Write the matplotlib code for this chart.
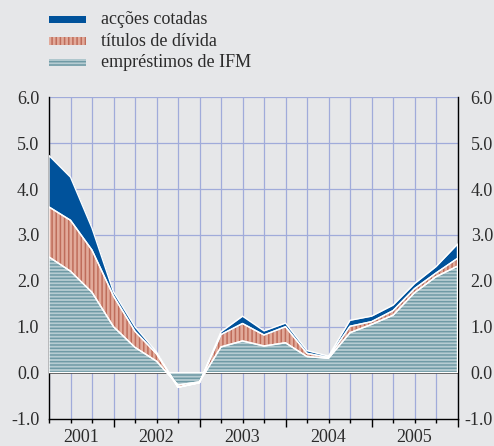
import numpy as np
import matplotlib.pyplot as plt
from matplotlib.patches import Rectangle
from matplotlib.transforms import blended_transform_factory

# quarterly observations, 2001 Q2 to 2006 Q1 (end of quarter)
quarters = [2001.25, 2001.5, 2001.75, 2002.0, 2002.25, 2002.5, 2002.75, 2003.0,
            2003.25, 2003.5, 2003.75, 2004.0, 2004.25, 2004.5, 2004.75, 2005.0,
            2005.25, 2005.5, 2005.75, 2006.0]

# contributions (percentage points)
loans = [2.52, 2.21, 1.75, 1.00, 0.55, 0.25, -0.27, -0.20, 0.56, 0.69,
         0.58, 0.65, 0.35, 0.31, 0.87, 1.05, 1.25, 1.74, 2.09, 2.32]
debt = [1.09, 1.11, 0.92, 0.67, 0.35, 0.16, -0.05, -0.02, 0.27, 0.38,
        0.24, 0.35, 0.07, 0.02, 0.14, 0.06, 0.10, 0.09, 0.08, 0.17]
equity = [1.12, 0.94, 0.48, 0.09, 0.10, 0.04, 0.0, 0.0, 0.06, 0.16,
          0.09, 0.08, 0.06, 0.03, 0.13, 0.12, 0.12, 0.11, 0.14, 0.31]

labels = ["acções cotadas", "títulos de dívida", "empréstimos de IFM"]
year_labels = ["2001", "2002", "2003", "2004", "2005"]
year_pos = [2001.625, 2002.5, 2003.5, 2004.5, 2005.5]
year_bounds = [2002.0, 2003.0, 2004.0, 2005.0, 2006.0]

bg = "#e6e7e9"
grid_col = "#a0abda"
blue = "#00529b"
red_light, red_dark = "#e2aa9a", "#bf6d5b"
teal_light, teal_dark = "#b6ccd2", "#6f9aa5"
text_col = "#2b2b2b"

plt.rcParams["font.family"] = ["Liberation Serif", "DejaVu Serif"]
plt.rcParams["hatch.linewidth"] = 1.1

fig = plt.figure(figsize=(4.94, 4.46), dpi=100, facecolor=bg)
ax = fig.add_axes([49 / 494, 1 - 418.5 / 446, 408.5 / 494, 321.2 / 446])
ax.set_facecolor(bg)

x = np.array(quarters)
l1 = np.array(loans)
l2 = l1 + np.array(debt)
l3 = l2 + np.array(equity)

# stacked areas: hatch drawn in the dark colour, white outline on top
layers = [
    (np.zeros_like(l1), l1, teal_light, teal_dark, "-----"),
    (l1, l2, red_light, red_dark, "||||"),
    (l2, l3, blue, blue, None),
]
for lo, hi, face, dark, hatch in layers:
    ax.fill_between(x, lo, hi, facecolor=face, edgecolor=dark, hatch=hatch,
                    linewidth=0, zorder=3)
    ax.fill_between(x, lo, hi, facecolor="none", edgecolor="white",
                    linewidth=1.0, zorder=4)

ax.set_xlim(quarters[0], quarters[-1])
ax.set_ylim(-1.0, 6.0)

# grid
for q in quarters:
    ax.axvline(q, color=grid_col, lw=0.9, zorder=1)
for yv in range(1, 7):
    ax.axhline(yv, color=grid_col, lw=0.9, zorder=1)
ax.axhline(0, color="black", lw=1.2, zorder=2)

for side in ["left", "right", "bottom"]:
    ax.spines[side].set_color("black")
    ax.spines[side].set_linewidth(1.0)
    ax.spines[side].set_zorder(2)
ax.spines["top"].set_visible(False)

yvals = np.arange(-1, 7, 1)
ax.set_yticks(yvals)
ax.set_yticklabels([f"{v:.1f}" for v in yvals])
ax.tick_params(axis="y", length=0, labelleft=True, labelright=True,
               labelsize=13, colors=text_col, pad=7)
# right-hand labels are right-aligned near the figure edge
right_trans = ax.get_yaxis_text2_transform(25.5)[0]
for t in ax.yaxis.get_major_ticks():
    t.label2.set_horizontalalignment("right")
    t.label2.set_transform(right_trans)

ax.set_xticks(year_bounds)
ax.set_xticklabels([])
ax.set_xticks(quarters, minor=True)
ax.tick_params(axis="x", which="major", length=6, width=1, direction="out")
ax.tick_params(axis="x", which="minor", length=3, width=1, direction="out")

trans = blended_transform_factory(ax.transData, ax.transAxes)
for pos, lab in zip(year_pos, year_labels):
    ax.text(pos, -0.06, lab, transform=trans, ha="center", va="center",
            fontsize=13, color=text_col)

# legend
leg_rows = [(19.3, blue, blue, None), (41.0, red_light, red_dark, "||||"),
            (62.7, teal_light, teal_dark, "-----")]
for (yc, face, dark, hatch), lab in zip(leg_rows, labels):
    fig.add_artist(Rectangle((49 / 494, 1 - (yc + 3.5) / 446), 37 / 494, 7 / 446,
                             transform=fig.transFigure, facecolor=face,
                             edgecolor=dark, hatch=hatch, linewidth=0))
    fig.text(101 / 494, 1 - yc / 446, lab, ha="left", va="center",
             fontsize=13, color=text_col)

fig.savefig("out.png", dpi=100, facecolor=bg)
